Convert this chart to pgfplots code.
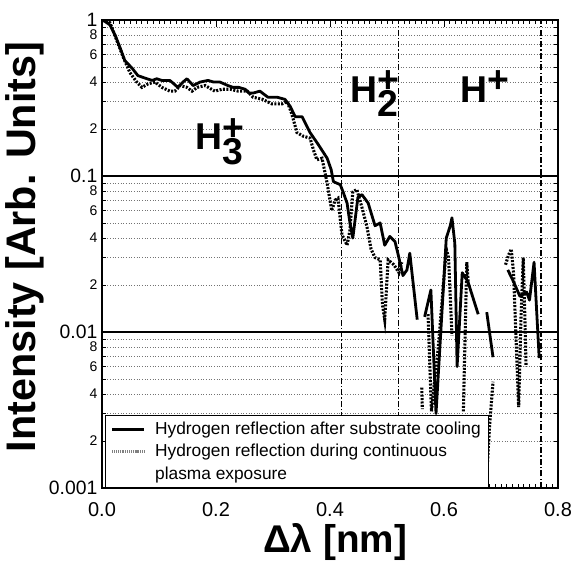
\documentclass[border=0pt]{standalone}
\usepackage{fontspec}
\setmainfont{Liberation Sans}
\usepackage{pgfplots}
\pgfplotsset{compat=1.18}

\tikzset{
  dotline/.style={black, line width=2.3pt, dash pattern=on 1.5pt off 1.1pt},
  solidline/.style={black, line width=2.1pt, line join=round},
  region/.style={black, line width=1pt, dash pattern=on 4.5pt off 1.6pt on 1pt off 1.6pt},
}

\newcommand{\ion}[2]{\bfseries H\rlap{\raisebox{-0.38em}{#1}}\raisebox{0.26em}{#2}}

\begin{document}
\begin{tikzpicture}
\useasboundingbox (-76.5pt,-56.25pt) rectangle (351.75pt,366pt);
\begin{axis}[
  ymode=log,
  scale only axis,
  width=342pt, height=351pt,
  xmin=0, xmax=0.8,
  ymin=0.001, ymax=1,
  xtick={0,0.2,0.4,0.6,0.8},
  xticklabels={0.0,0.2,0.4,0.6,0.8},
  minor x tick num=19,
  ytick={0.001,0.01,0.1,1},
  yticklabels={0.001,0.01,0.1,1},
  extra y ticks={0.002,0.004,0.006,0.008,0.02,0.04,0.06,0.08,0.2,0.4,0.6,0.8},
  extra y tick labels={2,4,6,8,2,4,6,8,2,4,6,8},
  extra y tick style={grid=none, major tick length=0pt,
    yticklabel style={font=\fontsize{10.5}{10.5}\selectfont}},
  /pgf/number format/assume math mode=true,
  x tick label style={font=\fontsize{15}{15}\selectfont, yshift=-7pt},
  y tick label style={font=\fontsize{14.5}{14.5}\selectfont},
  ymajorgrids, yminorgrids,
  major grid style={black, line width=0.8pt},
  minor grid style={black!55, line width=0.6pt, dash pattern=on 0.8pt off 1.2pt},
  major tick length=5pt, minor tick length=3pt,
  every tick/.style={black, line width=0.6pt},
  axis line style={line width=1.1pt},
  xlabel={\bfseries Δλ [nm]},
  ylabel={\bfseries Intensity [Arb. Units]},
  xlabel style={font=\fontsize{29}{29}\selectfont, at={(axis description cs:0.511,-0.115)}, anchor=center},
  ylabel style={font=\fontsize{31}{31}\selectfont, at={(axis description cs:-0.17,0.515)}, anchor=center},
  legend style={at={(axis description cs:0.006,0.0)}, anchor=south west,
    draw=black, line width=0.8pt, fill=white,
    font=\fontsize{13}{13}\selectfont,
    cells={anchor=base west},
    inner xsep=4pt, inner ysep=2.5pt, row sep=2pt},
  legend image code/.code={\draw[#1] (0pt,3.8pt) -- (24pt,3.8pt); \path (29pt,0pt);},
]
\addlegendimage{black, line width=2.1pt}
\addlegendentry{Hydrogen reflection after substrate cooling}
\addlegendimage{black!50, line width=2.4pt, dash pattern=on 0.8pt off 0.6pt}
\addlegendentry{Hydrogen reflection during continuous}
\addlegendimage{legend image code/.code={\path (29pt,0pt);}}
\addlegendentry{plasma exposure}

% region boundaries
\addplot[region, forget plot] coordinates {(0.42,0.001) (0.42,1)};
\addplot[region, forget plot] coordinates {(0.52,0.001) (0.52,1)};
\addplot[region, forget plot] coordinates {(0.77,0.001) (0.77,1)};

% during continuous plasma exposure
\addplot[dotline, forget plot] coordinates {
(0.000,1.00) (0.004,1.00) (0.014,0.96) (0.026,0.74) (0.037,0.58) (0.049,0.46)
(0.061,0.40) (0.070,0.37) (0.081,0.39) (0.093,0.40) (0.105,0.37) (0.119,0.35)
(0.128,0.35) (0.137,0.38) (0.149,0.37) (0.158,0.35) (0.167,0.37) (0.181,0.38)
(0.198,0.35) (0.211,0.36) (0.225,0.36) (0.239,0.35) (0.255,0.35) (0.265,0.32)
(0.282,0.31) (0.298,0.29) (0.316,0.29) (0.325,0.30) (0.333,0.25) (0.342,0.19)
(0.353,0.18) (0.365,0.175) (0.371,0.147) (0.377,0.127) (0.386,0.13) (0.395,0.09)
(0.403,0.06) (0.409,0.07) (0.414,0.072) (0.421,0.042) (0.430,0.036) (0.435,0.045)
(0.440,0.079) (0.447,0.082) (0.456,0.063) (0.465,0.047) (0.472,0.034) (0.479,0.030)
(0.488,0.029) (0.492,0.015) (0.496,0.012) (0.502,0.029) (0.512,0.027) (0.521,0.024)
(0.526,0.028)
};
\addplot[dotline, forget plot] coordinates {(0.561,0.0044) (0.562,0.0032)};
\addplot[dotline, forget plot] coordinates {
(0.572,0.013) (0.578,0.0031) (0.590,0.008) (0.604,0.034) (0.608,0.030) (0.614,0.0095)
};
\addplot[dotline, forget plot] coordinates {(0.634,0.0031) (0.640,0.028) (0.643,0.020)};
\addplot[dotline, forget plot] coordinates {(0.675,0.0012) (0.680,0.0025) (0.686,0.0048)};
\addplot[dotline, forget plot] coordinates {
(0.708,0.027) (0.713,0.031) (0.718,0.034) (0.722,0.024) (0.731,0.0033) (0.735,0.012)
(0.739,0.030) (0.742,0.012) (0.744,0.006)
};

% after substrate cooling
\addplot[solidline, forget plot] coordinates {
(0.000,1.00) (0.005,0.98) (0.014,0.93) (0.023,0.80) (0.032,0.66) (0.040,0.55)
(0.053,0.49) (0.063,0.44) (0.079,0.42) (0.088,0.41) (0.096,0.42) (0.105,0.41)
(0.119,0.41) (0.126,0.39) (0.133,0.37) (0.142,0.40) (0.149,0.42) (0.160,0.38)
(0.172,0.40) (0.186,0.41) (0.196,0.40) (0.207,0.40) (0.221,0.38) (0.230,0.37)
(0.240,0.37) (0.251,0.36) (0.258,0.34) (0.265,0.34) (0.277,0.35) (0.291,0.32)
(0.307,0.32) (0.321,0.31) (0.330,0.28) (0.339,0.24) (0.351,0.24) (0.365,0.19)
(0.379,0.16) (0.395,0.13) (0.402,0.11) (0.406,0.092) (0.418,0.088) (0.423,0.079)
(0.430,0.067) (0.435,0.050) (0.440,0.040) (0.449,0.073) (0.456,0.076) (0.467,0.067)
(0.479,0.048) (0.488,0.050) (0.496,0.036) (0.505,0.041) (0.514,0.038) (0.519,0.032)
(0.528,0.023) (0.535,0.025) (0.540,0.032) (0.553,0.012)
};
\addplot[solidline, forget plot] coordinates {
(0.566,0.0125) (0.577,0.0186) (0.586,0.0030) (0.604,0.040) (0.611,0.048) (0.614,0.054)
(0.619,0.037) (0.623,0.0060) (0.632,0.024) (0.642,0.021) (0.660,0.013)
};
\addplot[solidline, forget plot] coordinates {(0.675,0.0134) (0.686,0.0069)};
\addplot[solidline, forget plot] coordinates {
(0.712,0.025) (0.722,0.021) (0.733,0.017) (0.745,0.018) (0.750,0.016) (0.758,0.028)
(0.767,0.0068)
};

\node[anchor=base west, inner sep=0pt, font=\fontsize{28}{28}\selectfont] at (axis cs:0.163,0.147) {\ion{3}{+}};
\node[anchor=base west, inner sep=0pt, font=\fontsize{28}{28}\selectfont] at (axis cs:0.435,0.298) {\ion{2}{+}};
\node[anchor=base west, inner sep=0pt, font=\fontsize{28}{28}\selectfont] at (axis cs:0.628,0.298) {\ion{}{+}};
\end{axis}
\end{tikzpicture}
\end{document}
